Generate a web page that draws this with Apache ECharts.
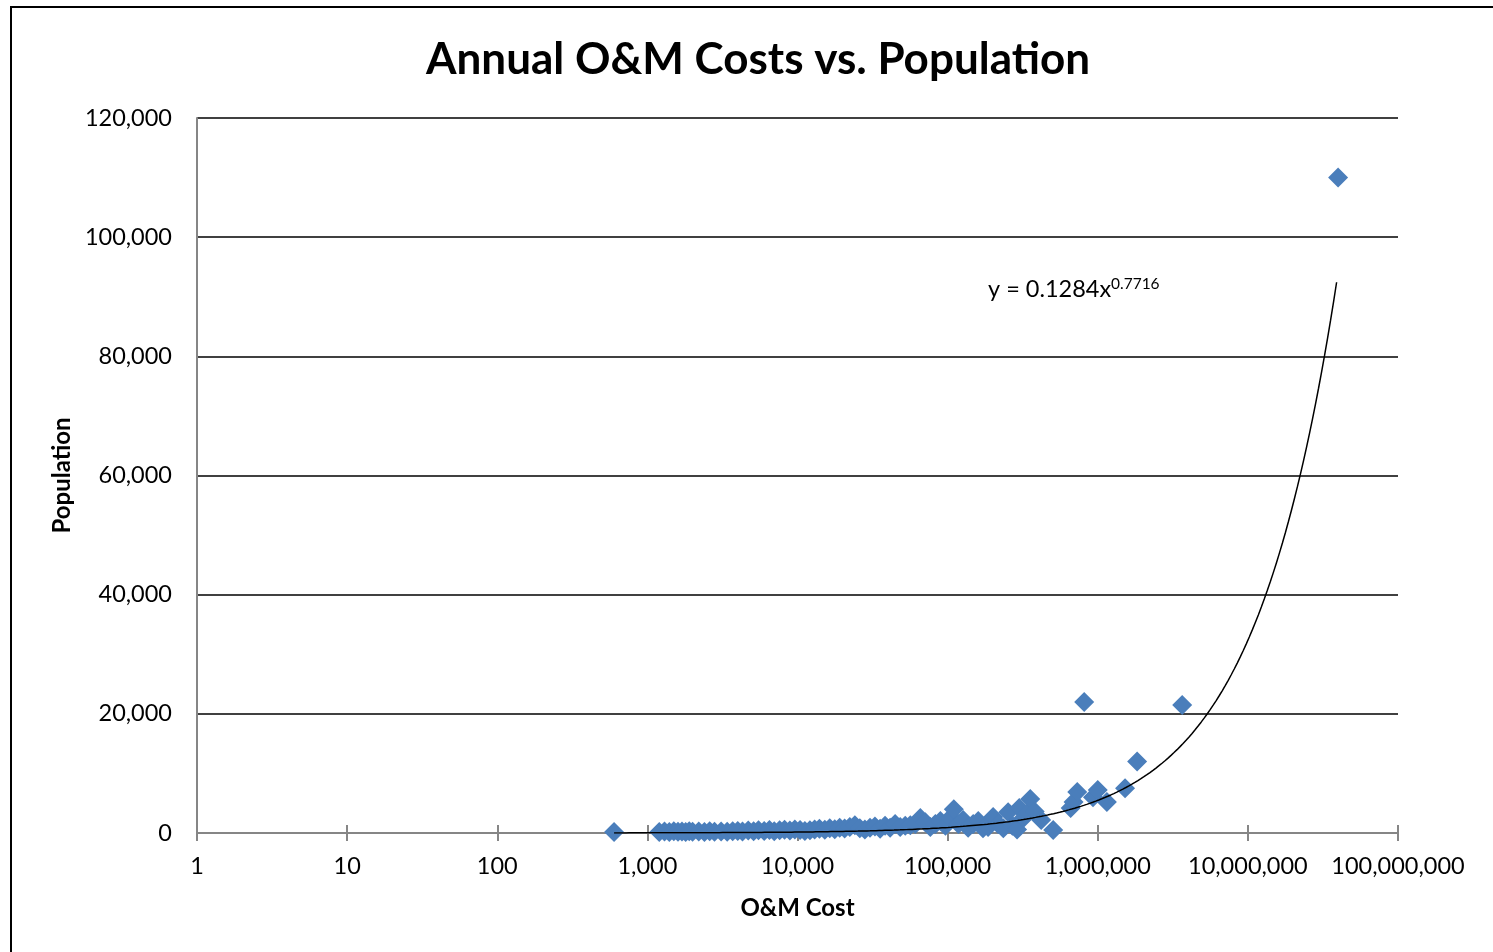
<!DOCTYPE html>
<html>
<head>
<meta charset="utf-8">
<script src="https://cdn.jsdelivr.net/npm/echarts@6/dist/echarts.min.js"></script>
<style>
  html, body { margin: 0; padding: 0; background: #fff; }
  #chart { width: 1493px; height: 952px; }
</style>
</head>
<body>
<div id="chart"></div>
<script>
// Annual O&M cost (x) and population served (y) for each system
const omCost = [
  600,
  1200, 1300, 1400, 1500, 1600, 1700, 1800, 1900, 2000, 2200, 2400, 2600, 2800,
  3100, 3400, 3700, 4000, 4300, 4700, 5100, 5500, 6000, 6500, 7000, 7600, 8200, 8900, 9600,
  10400, 11200, 12100, 13000, 14000, 15200, 16400, 17700, 19100, 20600, 22300, 24100, 26000,
  28100, 30400, 32800, 35500, 38300, 41400, 44700, 48300, 52200, 56400, 60900, 65800, 71000,
  76700, 82900, 89500, 96700, 104000, 110000, 118000, 127000, 137000, 148000, 160000, 172000,
  186000, 201000, 217000, 235000, 253000, 270000, 290000, 300000, 320000, 340000, 355000,
  380000, 420000, 505000, 660000, 690000, 730000, 812000, 930000, 1000000, 1150000,
  1520000, 1830000, 3650000, 39900000
];
const population = [
  150,
  180, 250, 150, 300, 200, 250, 150, 300, 200, 250, 150, 300, 200,
  250, 200, 300, 350, 250, 400, 300, 450, 350, 500, 300, 450, 550, 400, 600,
  500, 350, 450, 600, 700, 550, 800, 650, 900, 750, 1000, 1300, 800,
  600, 900, 1100, 700, 1200, 900, 1500, 1000, 1200, 1300, 1500, 2500, 1800,
  1000, 1500, 2000, 1200, 2500, 4000, 1500, 2200, 900, 1500, 2000, 800,
  1000, 2700, 1500, 800, 3500, 1200, 600, 4200, 2500, 3300, 5700,
  3600, 2200, 500, 4200, 5200, 6900, 22000, 6000, 7200, 5200,
  7500, 12000, 21500, 110000
];

// Power-law fit shown on the chart: y = a * x^b
const fitA = 0.1284;
const fitB = 0.7716;
const fitStart = 600;
const fitEnd = 39000000;

// Axis settings
const xMin = 1, xMax = 100000000;
const yMin = 0, yMax = 120000, yStep = 20000;

const points = omCost.map((c, i) => [c, population[i]]);
const fitLine = [];
const steps = 240;
for (let i = 0; i <= steps; i++) {
  const lx = Math.log10(fitStart) + (Math.log10(fitEnd) - Math.log10(fitStart)) * i / steps;
  const x = Math.pow(10, lx);
  fitLine.push([x, fitA * Math.pow(x, fitB)]);
}

const FONT = 'Lato, "Open Sans", sans-serif';
const fmt = v => Math.round(v).toLocaleString('en-US');

const chart = echarts.init(document.getElementById('chart'), null, { renderer: 'canvas' });
chart.setOption({
  backgroundColor: '#ffffff',
  animation: false,
  textStyle: { fontFamily: FONT },
  title: {
    text: 'Annual O&M Costs vs. Population',
    left: 421,
    top: 33,
    textStyle: { fontFamily: FONT, fontSize: 44, fontWeight: 'bold', color: '#000' }
  },
  grid: { left: 197, right: 95, top: 118, bottom: 119, containLabel: false },
  xAxis: [{
    type: 'log',
    logBase: 10,
    min: xMin,
    max: xMax,
    name: 'O&M Cost',
    nameLocation: 'middle',
    nameGap: 63,
    nameTextStyle: { fontFamily: FONT, fontSize: 24, fontWeight: 'bold', color: '#000' },
    axisLine: { show: true, lineStyle: { color: '#868686', width: 2 } },
    axisTick: { show: true, length: 8, lineStyle: { color: '#868686', width: 2 } },
    axisLabel: { fontFamily: FONT, fontSize: 23.5, color: '#000', margin: 21, formatter: fmt },
    splitLine: { show: false },
    minorTick: { show: false }
  }, {
    type: 'log',
    logBase: 10,
    min: xMin,
    max: xMax,
    position: 'bottom',
    axisLine: { show: false },
    axisTick: { show: true, inside: true, length: 8, lineStyle: { color: '#868686', width: 2 } },
    axisLabel: { show: false },
    splitLine: { show: false }
  }],
  yAxis: {
    type: 'value',
    min: yMin,
    max: yMax,
    interval: yStep,
    name: 'Population',
    nameLocation: 'middle',
    nameGap: 122,
    nameRotate: 90,
    nameTextStyle: { fontFamily: FONT, fontSize: 24, fontWeight: 'bold', color: '#000' },
    axisLine: { show: true, lineStyle: { color: '#868686', width: 2 } },
    axisTick: { show: false },
    axisLabel: { fontFamily: FONT, fontSize: 23.5, color: '#000', margin: 25, formatter: fmt },
    splitLine: { show: true, lineStyle: { color: '#000', width: 1.5 } }
  },
  series: [{
    type: 'scatter',
    name: 'Population',
    data: points,
    symbol: 'diamond',
    symbolSize: 20,
    itemStyle: { color: '#4A7EBB', opacity: 1 },
    z: 3
  }, {
    type: 'line',
    name: 'Power fit',
    data: fitLine,
    showSymbol: false,
    smooth: false,
    lineStyle: { color: '#000', width: 1.5 },
    z: 4
  }],
  graphic: [{
    type: 'rect',
    shape: { x: 11, y: 7, width: 1600, height: 1100 },
    style: { fill: 'none', stroke: '#000', lineWidth: 2 },
    silent: true
  }, {
    type: 'text',
    left: 988,
    top: 277,
    style: { text: 'y = 0.1284x', fontFamily: FONT, fontSize: 23.5, fill: '#000' }
  }, {
    type: 'text',
    left: 1111,
    top: 276,
    style: { text: '0.7716', fontFamily: FONT, fontSize: 15.5, fill: '#000' }
  }]
});
</script>
</body>
</html>
